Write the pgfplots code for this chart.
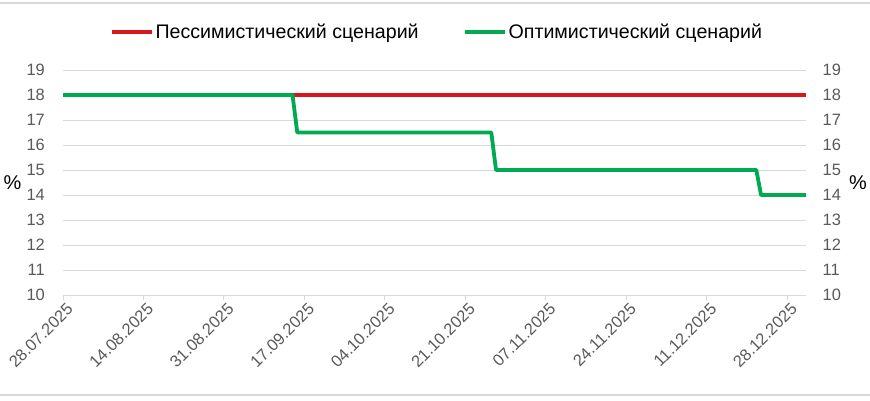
\documentclass[border=0pt]{standalone}
\usepackage{pgfplots}
\pgfplotsset{compat=1.18}
\usepackage{fontspec}
\setmainfont{Liberation Sans}
\definecolor{redl}{RGB}{214,24,28}
\definecolor{greenl}{RGB}{0,170,80}
\definecolor{gridc}{RGB}{217,217,217}
\definecolor{tickc}{RGB}{89,89,89}
\begin{document}
\begin{tikzpicture}[x=1bp,y=1bp]
\useasboundingbox (0,0) rectangle (870,400);
\draw[gridc, line width=1.2bp] (0,397)--(870,397);
\draw[gridc, line width=1.2bp] (0,5)--(870,5);
\begin{axis}[
  at={(63bp,105bp)}, anchor=south west,
  scale only axis, width=743bp, height=225bp,
  xmin=0, xmax=157, ymin=10, ymax=19,
  /pgf/number format/assume math mode=true,
  xtick={0,17,...,153},
  xticklabels={28.07.2025,14.08.2025,31.08.2025,17.09.2025,04.10.2025,21.10.2025,07.11.2025,24.11.2025,11.12.2025,28.12.2025},
  ytick={10,11,...,19},
  ymajorgrids, grid style={gridc, line width=1bp},
  axis x line*=bottom, axis y line*=left,
  x axis line style={gridc, line width=1bp, -},
  y axis line style={draw=none},
  xtick style={gridc, line width=1bp},
  ytick style={draw=none},
  major tick length=5bp, tick align=outside,
  xtick pos=bottom,
  xticklabel style={rotate=45, anchor=north east, inner sep=0.5bp, yshift=-3bp, xshift=1bp, text=tickc, font=\fontsize{16.5}{19}\selectfont},
  yticklabel style={anchor=east, inner sep=0pt, xshift=-13bp, text=tickc, font=\fontsize{16.5}{19}\selectfont},
  legend style={at={(0.503,1.169)}, anchor=center, draw=none, fill=none,
    legend columns=2, font=\fontsize{19.7}{23}\selectfont,
    /tikz/every even column/.append style={column sep=42bp},
    inner sep=0pt},
  legend cell align=left,
  legend image code/.code={\draw[#1, line width=4bp] (0bp,0bp)--(40bp,0bp);},
  clip=false,
]
\addplot[redl, line width=3.8bp] coordinates {(0,18) (157,18)};
\addlegendentry{Пессимистический сценарий}
\addplot[greenl, line width=3.8bp, line join=round] coordinates {(0,18) (48.5,18) (49.5,16.5) (90.5,16.5) (91.5,15) (146.5,15) (147.5,14) (157,14)};
\addlegendentry{Оптимистический сценарий}
\node[font=\fontsize{20}{24}\selectfont, text=black] at (rel axis cs:-0.068,0.5) {\%};
\node[font=\fontsize{20}{24}\selectfont, text=black] at (rel axis cs:1.07,0.5) {\%};
\end{axis}
\begin{axis}[
  at={(63bp,105bp)}, anchor=south west,
  scale only axis, width=743bp, height=225bp,
  xmin=0, xmax=157, ymin=10, ymax=19,
  /pgf/number format/assume math mode=true,
  axis x line=none, axis y line*=right,
  y axis line style={draw=none},
  ytick={10,11,...,19}, ytick style={draw=none},
  yticklabel style={anchor=west, inner sep=0pt, xshift=16.5bp, text=tickc, font=\fontsize{16.5}{19}\selectfont},
]
\end{axis}
\end{tikzpicture}
\end{document}
